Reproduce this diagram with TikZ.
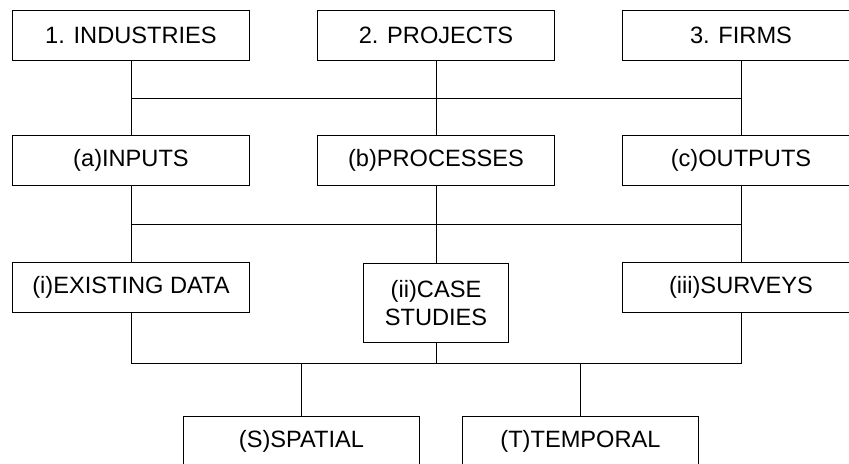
\documentclass[tikz,border=0pt]{standalone}
\usepackage{fontspec}
\setmainfont{Liberation Sans}
\tikzset{
    block/.style={rectangle, draw=black, line width=0.7pt, minimum width=5.9cm, minimum height=1.25cm, inner sep=2pt, align=center, font=\fontsize{16.8}{19.8}\selectfont},
    smallblock/.style={block, minimum width=3.625cm, minimum height=1.975cm},
    link/.style={line width=0.7pt, black},
}
\begin{document}
\begin{tikzpicture}[x=0.025cm, y=-0.025cm]
    \useasboundingbox (0,0) rectangle (849,463);

    % Level 1
    \foreach \x/\name/\txt in {131/ind/1. INDUSTRIES, 436/proj/2. PROJECTS, 741/firm/3. FIRMS} {
        \node[block] (\name) at (\x, 35) {\txt};
    }

    % Level 2
    \foreach \x/\name/\txt in {131/inp/(a)INPUTS, 436/proc/(b)PROCESSES, 741/outp/(c)OUTPUTS} {
        \node[block] (\name) at (\x, 160.5) {\txt};
    }

    % Level 3
    \node[block] (data) at (131, 287.5) {(i)EXISTING DATA};
    \node[smallblock, anchor=north] (cases) at (436, 263) {(ii)CASE\\STUDIES};
    \node[block] (surv) at (741, 287.5) {(iii)SURVEYS};

    % Level 4
    \node[block, anchor=north] (spat) at (301.5, 416) {(S)SPATIAL};
    \node[block, anchor=north] (temp) at (580.5, 416) {(T)TEMPORAL};

    % buses
    \coordinate (bus1) at (0, 98);
    \coordinate (bus2) at (0, 224);
    \coordinate (bus3) at (0, 363);

    \draw[link] (ind) -- (inp);
    \draw[link] (proj) -- (proc);
    \draw[link] (firm) -- (outp);
    \draw[link] (ind.south |- bus1) -- (firm.south |- bus1);

    \draw[link] (inp) -- (data);
    \draw[link] (proc.south) -- (cases.north);
    \draw[link] (outp) -- (surv);
    \draw[link] (inp.south |- bus2) -- (outp.south |- bus2);

    \draw[link] (data.south) |- (surv.south |- bus3) -- (surv.south);
    \draw[link] (cases.south) -- (cases.south |- bus3);
    \draw[link] (spat.north) -- (spat.north |- bus3);
    \draw[link] (temp.north) -- (temp.north |- bus3);
\end{tikzpicture}
\end{document}
